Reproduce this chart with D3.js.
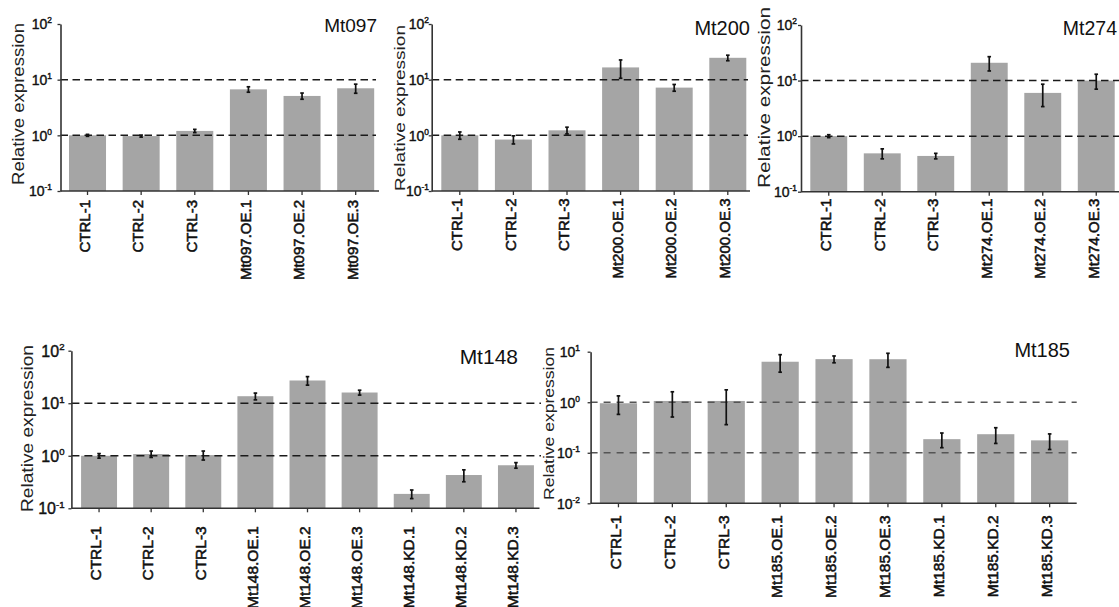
<!DOCTYPE html>
<html>
<head>
<meta charset="utf-8">
<script src="https://cdnjs.cloudflare.com/ajax/libs/d3/7.8.5/d3.min.js"></script>
<style>
  html, body { margin: 0; padding: 0; background: #fff; }
  svg { display: block; font-family: "Liberation Sans", Arial, sans-serif; }
</style>
</head>
<body>
<svg id="fig" width="1119" height="607"></svg>
<script>
// ---- data -------------------------------------------------------------
const mt097Categories = ["CTRL-1", "CTRL-2", "CTRL-3", "Mt097.OE.1", "Mt097.OE.2", "Mt097.OE.3"];
const mt097Values     = [1.0, 0.97, 1.2, 6.7, 5.1, 7.0];
const mt097Errors     = [0.04, 0.04, 0.08, 0.75, 0.65, 1.3];

const mt200Categories = ["CTRL-1", "CTRL-2", "CTRL-3", "Mt200.OE.1", "Mt200.OE.2", "Mt200.OE.3"];
const mt200Values     = [1.0, 0.84, 1.23, 16.6, 7.2, 24.7];
const mt200Errors     = [0.15, 0.14, 0.17, 6.0, 1.0, 2.8];

const mt274Categories = ["CTRL-1", "CTRL-2", "CTRL-3", "Mt274.OE.1", "Mt274.OE.2", "Mt274.OE.3"];
const mt274Values     = [1.0, 0.49, 0.44, 20.9, 6.0, 10.0];
const mt274Errors     = [0.06, 0.1, 0.05, 6.0, 2.6, 3.0];

const mt148Categories = ["CTRL-1", "CTRL-2", "CTRL-3", "Mt148.OE.1", "Mt148.OE.2", "Mt148.OE.3",
                         "Mt148.KD.1", "Mt148.KD.2", "Mt148.KD.3"];
const mt148Values     = [1.0, 1.08, 1.03, 13.6, 27.1, 16.0, 0.188, 0.43, 0.66];
const mt148Errors     = [0.1, 0.15, 0.2, 2.0, 5.0, 1.7, 0.035, 0.11, 0.08];

const mt185Categories = ["CTRL-1", "CTRL-2", "CTRL-3", "Mt185.OE.1", "Mt185.OE.2", "Mt185.OE.3",
                         "Mt185.KD.1", "Mt185.KD.2", "Mt185.KD.3"];
const mt185Values     = [0.955, 1.06, 1.06, 6.33, 7.13, 7.1, 0.186, 0.233, 0.176];
const mt185Errors     = [0.38, 0.55, 0.7, 2.4, 1.1, 2.2, 0.06, 0.08, 0.06];

const decadesHigh = [-1, 0, 1, 2];   // 10^-1 .. 10^2
const decadesLow  = [-2, -1, 0, 1];  // 10^-2 .. 10^1
const guidesHigh  = [1, 10];
const guidesLow   = [0.1, 1];
const yTitle = "Relative expression";

// ---- layout -----------------------------------------------------------
const panels = [
  { name: "Mt097", cats: mt097Categories, vals: mt097Values, errs: mt097Errors,
    decades: decadesHigh, guides: guidesHigh, row: 0,
    axisX: 60.5, yTop: 24, yBot: 191, band: [60.7, 382.5], axisEnd: 379, dashEnd: 376,
    titleX: 377, titleY: 32, titleSize: 19,
    yTitleX: 24, yTitleY: 104, yTitleLen: 162, yTitleSize: 16,
    tickEnd: 52, tickSize: 14, labelGap: 9, labelSize: 15, dash: "7.5,4.5", dashColor: "#1a1a1a" },
  { name: "Mt200", cats: mt200Categories, vals: mt200Values, errs: mt200Errors,
    decades: decadesHigh, guides: guidesHigh, row: 0,
    axisX: 431.7, yTop: 24, yBot: 191, band: [433, 754.6], axisEnd: 750, dashEnd: 748,
    titleX: 750, titleY: 34.5, titleSize: 20,
    yTitleX: 405, yTitleY: 108, yTitleLen: 166, yTitleSize: 15.5,
    tickEnd: 429, tickSize: 14, labelGap: 7.5, labelSize: 15, dash: "7.5,4.5", dashColor: "#1a1a1a" },
  { name: "Mt274", cats: mt274Categories, vals: mt274Values, errs: mt274Errors,
    decades: decadesHigh, guides: guidesHigh, row: 0,
    axisX: 801, yTop: 25, yBot: 191.7, band: [802, 1123], axisEnd: 1119, dashEnd: 1119,
    titleX: 1117, titleY: 34.5, titleSize: 19.5,
    yTitleX: 770, yTitleY: 97.5, yTitleLen: 181, yTitleSize: 16,
    tickEnd: 797, tickSize: 14, labelGap: 7, labelSize: 15, dash: "7.5,4.5", dashColor: "#1a1a1a" },
  { name: "Mt148", cats: mt148Categories, vals: mt148Values, errs: mt148Errors,
    decades: decadesHigh, guides: guidesHigh, row: 1,
    axisX: 71.4, yTop: 350.7, yBot: 508.3, band: [73, 542], axisEnd: 539.5, dashEnd: 541,
    titleX: 518, titleY: 363.5, titleSize: 21,
    yTitleX: 33, yTitleY: 428.5, yTitleLen: 167, yTitleSize: 16.5,
    tickEnd: 64.5, tickSize: 16, labelGap: 18, labelSize: 15.5, dash: "8,5", dashColor: "#1a1a1a" },
  { name: "Mt185", cats: mt185Categories, vals: mt185Values, errs: mt185Errors,
    decades: decadesLow, guides: guidesLow, row: 1,
    axisX: 590.6, yTop: 351.7, yBot: 503.3, band: [591.5, 1076.6], axisEnd: 1076.7, dashEnd: 1076.7,
    titleX: 1070, titleY: 357, titleSize: 20,
    yTitleX: 554, yTitleY: 423.5, yTitleLen: 153, yTitleSize: 15,
    tickEnd: 580, tickSize: 14, labelGap: 12, labelSize: 15.5, dash: "7,6", dashColor: "#555" }
];

const barColor = "#a5a5a5";
const axisColor = "#333";
const textColor = "#111";

const svg = d3.select("#fig");

// top row tick labels are cut off below the panels
svg.append("defs").append("clipPath").attr("id", "topRowClip")
  .append("rect").attr("x", 0).attr("y", 0).attr("width", 1119).attr("height", 281.5);

const rowGroups = [
  svg.append("g").attr("clip-path", "url(#topRowClip)"),
  svg.append("g")
];

// slightly heavier strokes on small text
function heavy(sel, w) {
  return sel.attr("stroke", textColor).attr("stroke-width", w).attr("paint-order", "stroke");
}

panels.forEach(p => {
  const g = rowGroups[p.row].append("g").attr("class", "panel");
  const lo = Math.pow(10, p.decades[0]);
  const hi = Math.pow(10, p.decades[p.decades.length - 1]);

  const y = d3.scaleLog().domain([lo, hi]).range([p.yBot, p.yTop]);
  const x = d3.scaleBand().domain(p.cats).range(p.band)
    .paddingInner(0.31).paddingOuter(0.155);

  const bars = p.cats.map((c, i) => ({ cat: c, v: p.vals[i], e: p.errs[i] }));

  // bars
  g.append("g").selectAll("rect").data(bars).join("rect")
    .attr("x", d => x(d.cat))
    .attr("width", x.bandwidth())
    .attr("y", d => y(d.v))
    .attr("height", d => p.yBot - y(d.v))
    .attr("fill", barColor);

  // dashed reference lines
  g.append("g").selectAll("line").data(p.guides).join("line")
    .attr("x1", p.axisX).attr("x2", p.dashEnd)
    .attr("y1", d => y(d)).attr("y2", d => y(d))
    .attr("stroke", p.dashColor).attr("stroke-width", 1.5)
    .attr("stroke-dasharray", p.dash);

  // error bars
  const eb = g.append("g").attr("stroke", "#111").attr("stroke-width", 1.7);
  bars.forEach(d => {
    const cx = x(d.cat) + x.bandwidth() / 2;
    const y1 = y(d.v + d.e), y2 = y(Math.max(d.v - d.e, lo));
    eb.append("line").attr("x1", cx).attr("x2", cx).attr("y1", y1).attr("y2", y2);
    eb.append("line").attr("x1", cx - 1.8).attr("x2", cx + 1.8).attr("y1", y1).attr("y2", y1);
    eb.append("line").attr("x1", cx - 1.8).attr("x2", cx + 1.8).attr("y1", y2).attr("y2", y2);
  });

  // x axis
  const xAxis = g.append("g").attr("transform", `translate(0,${p.yBot})`)
    .call(d3.axisBottom(x).tickSize(4).tickSizeOuter(0));
  xAxis.select(".domain").remove();
  xAxis.selectAll(".tick line").attr("stroke", axisColor).attr("stroke-width", 1.3);
  heavy(xAxis.selectAll(".tick text")
    .attr("transform", "rotate(-90)")
    .attr("x", -p.labelGap).attr("y", 0).attr("dy", "0.15em")
    .attr("text-anchor", "end")
    .attr("font-size", p.labelSize)
    .attr("font-family", "Liberation Sans, Arial, sans-serif")
    .attr("fill", textColor), 0.55);
  g.append("line")
    .attr("x1", p.axisX).attr("x2", p.axisEnd)
    .attr("y1", p.yBot).attr("y2", p.yBot)
    .attr("stroke", axisColor).attr("stroke-width", 1.6);

  // y axis
  const tickVals = p.decades.map(k => Math.pow(10, k));
  const yAxis = g.append("g").attr("transform", `translate(${p.axisX},0)`)
    .call(d3.axisLeft(y).tickValues(tickVals).tickSize(3).tickSizeOuter(0).tickFormat(""));
  yAxis.select(".domain").attr("stroke", axisColor).attr("stroke-width", 1.6);
  yAxis.selectAll(".tick line").attr("stroke", axisColor).attr("stroke-width", 1.3);

  // decade labels written as 10 with a superscript exponent
  const lbl = heavy(g.append("g").selectAll("text").data(p.decades).join("text")
    .attr("x", p.tickEnd)
    .attr("y", k => y(Math.pow(10, k)))
    .attr("dy", "0.38em")
    .attr("text-anchor", "end")
    .attr("font-size", p.tickSize)
    .attr("fill", textColor), 0.4);
  lbl.append("tspan").text("10");
  lbl.append("tspan").attr("font-size", p.tickSize * 0.6).attr("dy", -p.tickSize * 0.42)
    .text(k => String(k));

  // axis title
  g.append("text")
    .attr("transform", `translate(${p.yTitleX},${p.yTitleY}) rotate(-90)`)
    .attr("text-anchor", "middle")
    .attr("font-size", p.yTitleSize)
    .attr("textLength", p.yTitleLen)
    .attr("lengthAdjust", "spacingAndGlyphs")
    .attr("fill", "#222")
    .text(yTitle);

  // panel name
  g.append("text")
    .attr("x", p.titleX).attr("y", p.titleY)
    .attr("text-anchor", "end")
    .attr("font-size", p.titleSize)
    .attr("fill", textColor)
    .text(p.name);
});
</script>
</body>
</html>
